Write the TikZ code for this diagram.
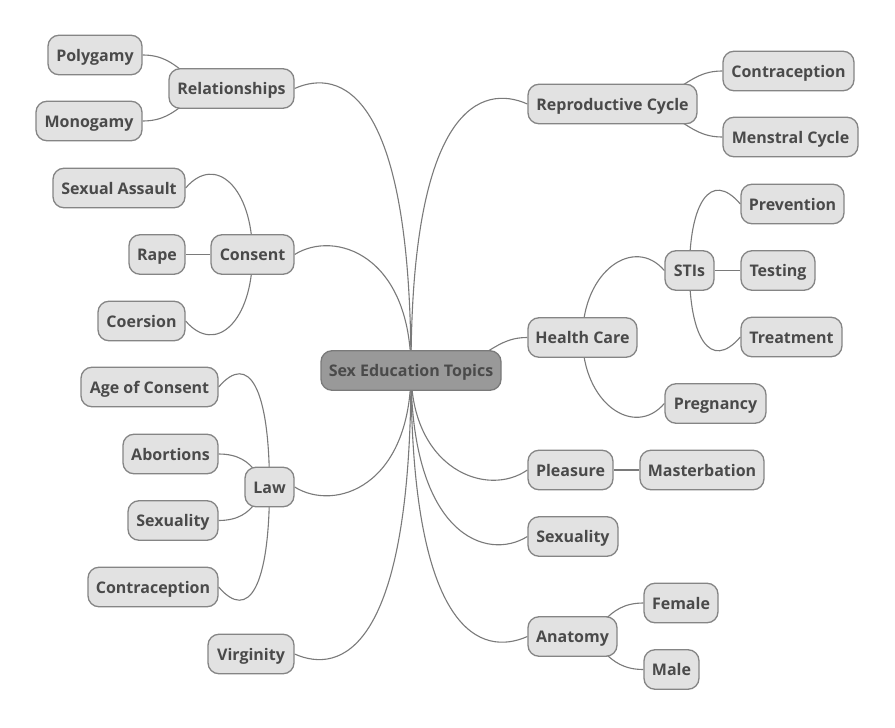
\documentclass[tikz,border=0pt]{standalone}
\usepackage{fontspec}
\setmainfont{Open Sans}
\usetikzlibrary{backgrounds}
\definecolor{boxfill}{HTML}{E2E2E2}
\definecolor{boxline}{HTML}{858585}
\definecolor{rootfill}{HTML}{999999}
\definecolor{rootline}{HTML}{7A7A7A}
\definecolor{textgrey}{HTML}{4A4A4A}
\definecolor{linegrey}{HTML}{7A7A7A}
\begin{document}
\begin{tikzpicture}[x=1pt,y=-1pt,
  topic/.style={draw=boxline, fill=boxfill, line width=1.3pt, rounded corners=11pt,
    minimum height=39.5pt, inner sep=0pt, text=textgrey,
    text height=16pt, text depth=3.4pt,
    font=\bfseries\fontsize{16}{19}\selectfont},
  roottopic/.style={topic, draw=rootline, fill=rootfill},
  branch/.style={draw=linegrey, line width=1.1pt}]
\useasboundingbox (0,0) rectangle (895,728);

% central topic
\node[roottopic, minimum width=180pt] (root) at (411,370.5) {Sex Education Topics};

% left side
\node[topic, minimum width=125pt] (rel)   at (231.5,88.5) {Relationships};
\node[topic, minimum width=94pt]  (poly)  at (95,55)      {Polygamy};
\node[topic, minimum width=106pt] (mono)  at (89,121)     {Monogamy};
\node[topic, minimum width=83pt]  (con)   at (252.5,254.5){Consent};
\node[topic, minimum width=132pt] (sa)    at (119,188)    {Sexual Assault};
\node[topic, minimum width=56pt]  (rape)  at (157,254.5)  {Rape};
\node[topic, minimum width=87pt]  (coer)  at (141.5,321)  {Coersion};
\node[topic, minimum width=49pt]  (law)   at (269.5,487)  {Law};
\node[topic, minimum width=137pt] (aoc)   at (149.5,387)  {Age of Consent};
\node[topic, minimum width=95pt]  (abo)   at (170.5,454)  {Abortions};
\node[topic, minimum width=90pt]  (sexl)  at (173,520.5)  {Sexuality};
\node[topic, minimum width=130pt] (contl) at (153,587)    {Contraception};
\node[topic, minimum width=86pt]  (vir)   at (251,654)    {Virginity};

% right side
\node[topic, minimum width=169pt] (rep)   at (612.5,104)  {Reproductive Cycle};
\node[topic, minimum width=131pt] (contr) at (788.5,71)   {Contraception};
\node[topic, minimum width=135pt] (men)   at (790.5,137)  {Menstral Cycle};
\node[topic, minimum width=109pt] (hc)    at (582.5,337.5){Health Care};
\node[topic, minimum width=49pt]  (sti)   at (689.5,270.5){STIs};
\node[topic, minimum width=103pt] (prev)  at (792.5,204)  {Prevention};
\node[topic, minimum width=74pt]  (test)  at (778,270.5)  {Testing};
\node[topic, minimum width=101pt] (treat) at (791.5,337)  {Treatment};
\node[topic, minimum width=101pt] (preg)  at (715.5,403.5){Pregnancy};
\node[topic, minimum width=85pt]  (ple)   at (570.5,470)  {Pleasure};
\node[topic, minimum width=124pt] (mas)   at (702,470)    {Masterbation};
\node[topic, minimum width=90pt]  (sexr)  at (573,536.5)  {Sexuality};
\node[topic, minimum width=89pt]  (ana)   at (572.5,636.5){Anatomy};
\node[topic, minimum width=74pt]  (fem)   at (681,603)    {Female};
\node[topic, minimum width=55pt]  (male)  at (671.5,669.5){Male};

\begin{scope}[on background layer]
\fill[white] (0,0) rectangle (895,728);
% branches from the central topic
\draw[branch] (root.center) .. controls +(0,-282)   and +(45,-20)  .. (rel.east);
\draw[branch] (root.center) .. controls +(0,-116)   and +(40,-25)  .. (con.east);
\draw[branch] (root.center) .. controls +(0,116.5)  and +(40,25)   .. (law.east);
\draw[branch] (root.center) .. controls +(0,283.5)  and +(45,20)   .. (vir.east);
\draw[branch] (root.center) .. controls +(0,-266.5) and +(-45,-20) .. (rep.west);
\draw[branch] (root.center) .. controls +(77,0)     and +(-40,0)   .. (hc.west);
\draw[branch] (root.center) .. controls +(0,99.5)   and +(-40,28)  .. (ple.west);
\draw[branch] (root.center) .. controls +(0,166)    and +(-40,25)  .. (sexr.west);
\draw[branch] (root.center) .. controls +(0,266)    and +(-45,20)  .. (ana.west);
% relationships
\draw[branch] (rel.center) .. controls +(-49.5,0) and +(40,0) .. (poly.east);
\draw[branch] (rel.center) .. controls +(-49.5,0) and +(40,0) .. (mono.east);
% consent
\draw[branch] (con.center) .. controls +(0,-66.5) and +(30,-35) .. (sa.east);
\draw[branch] (con.west) -- (rape.east);
\draw[branch] (con.center) .. controls +(0,66.5)  and +(30,35)  .. (coer.east);
% law
\draw[branch] (law.center) .. controls +(0,-100)  and +(30,-35) .. (aoc.east);
\draw[branch] (law.center) .. controls +(-11.5,0) and +(40,0)   .. (abo.east);
\draw[branch] (law.center) .. controls +(-11.5,0) and +(40,0)   .. (sexl.east);
\draw[branch] (law.center) .. controls +(0,100)   and +(30,35)  .. (contl.east);
% reproductive cycle
\draw[branch] (rep.center) .. controls +(70.5,0) and +(-40,0) .. (contr.west);
\draw[branch] (rep.center) .. controls +(70.5,0) and +(-40,0) .. (men.west);
% health care
\draw[branch] (hc.center) .. controls +(0,-67) and +(-30,-35) .. (sti.west);
\draw[branch] (hc.center) .. controls +(0,66)  and +(-30,35)  .. (preg.west);
\draw[branch] (sti.center) .. controls +(0,-66.5) and +(-30,-35) .. (prev.west);
\draw[branch] (sti.east) -- (test.west);
\draw[branch] (sti.center) .. controls +(0,66.5)  and +(-30,35)  .. (treat.west);
% pleasure
\draw[branch] (ple.east) -- (mas.west);
% anatomy
\draw[branch] (ana.center) .. controls +(31.5,0) and +(-40,0) .. (fem.west);
\draw[branch] (ana.center) .. controls +(31.5,0) and +(-40,0) .. (male.west);
\end{scope}
\end{tikzpicture}
\end{document}
